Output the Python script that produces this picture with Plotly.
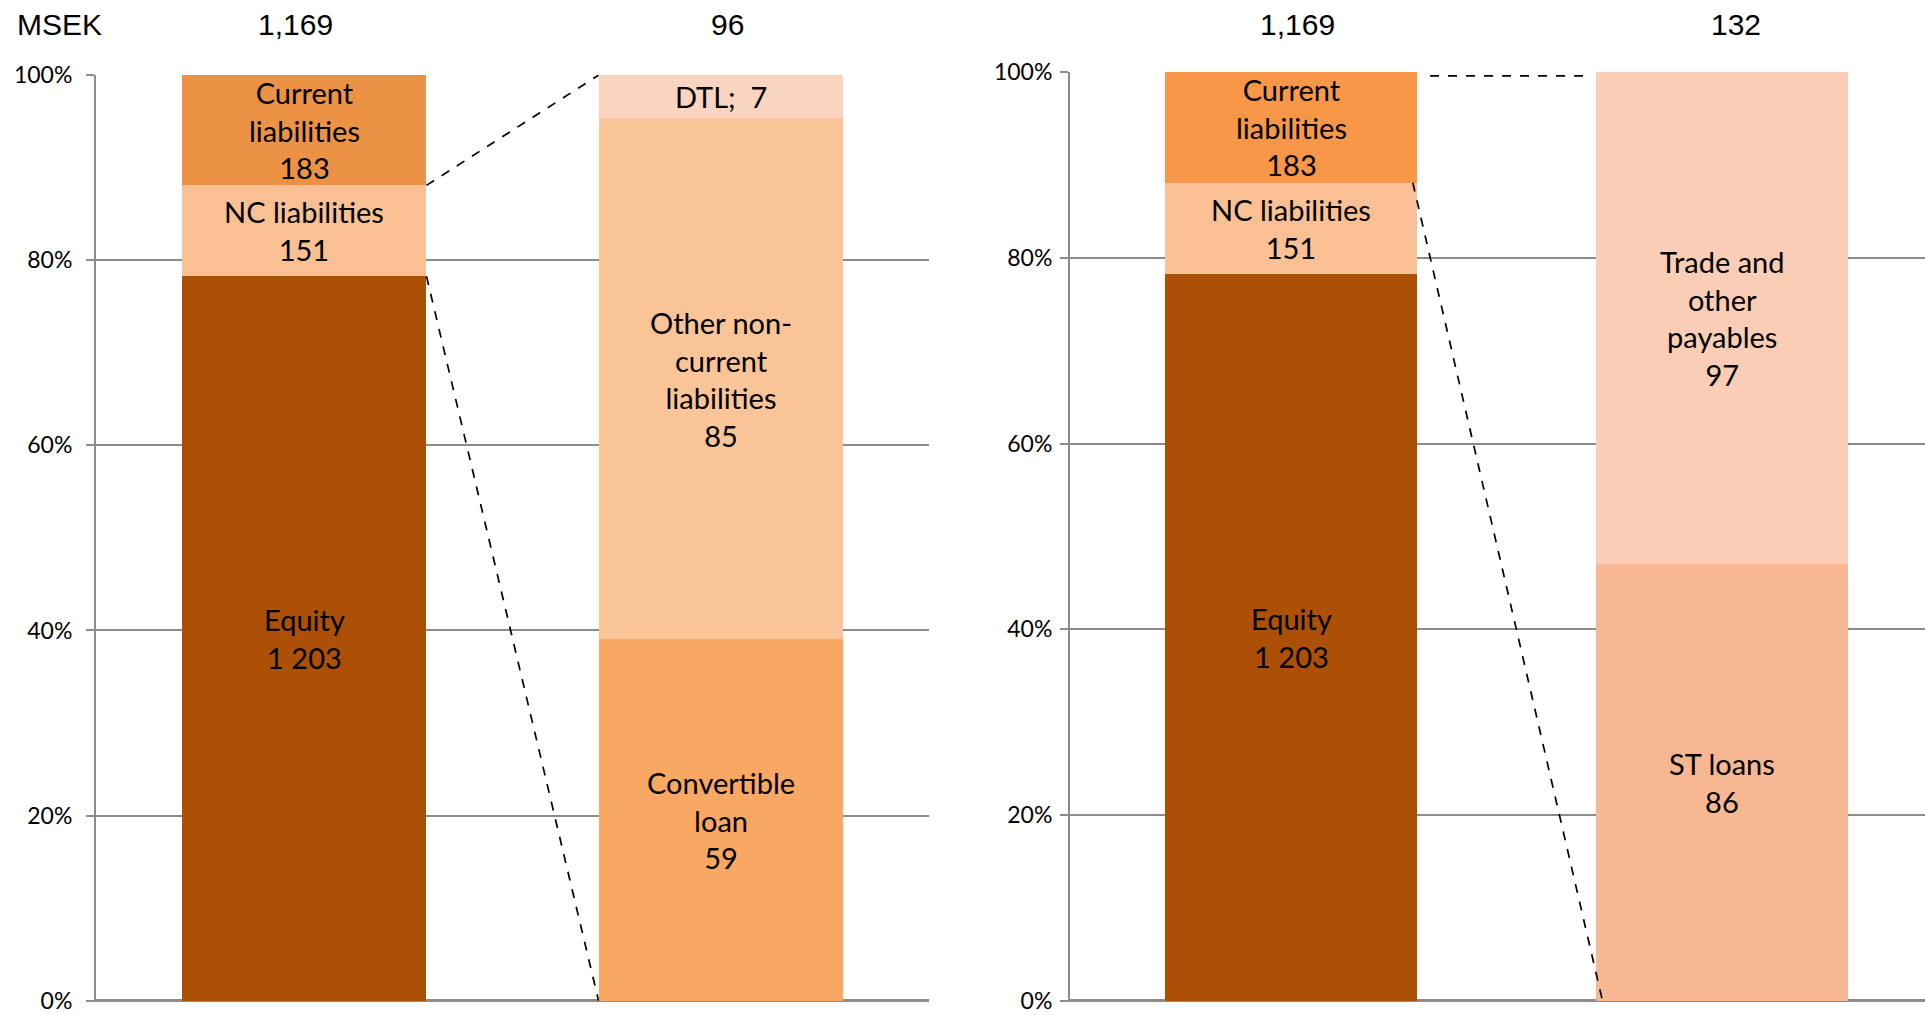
import plotly.graph_objects as go

# Balance sheet split (MSEK): total funding and drill-downs
main_names = ["Equity", "NC liabilities", "Current<br>liabilities"]
main_values = [1203, 151, 183]

nc_names = ["Convertible<br>loan", "Other non-<br>current<br>liabilities", "DTL"]
nc_values = [59, 85, 7]

cl_names = ["ST loans", "Trade and<br>other<br>payables"]
cl_values = [86, 97]

headers_left = ["1,169", "96"]
headers_right = ["1,169", "132"]
unit_label = "MSEK"

tick_vals = [0, 20, 40, 60, 80, 100]
tick_text = ["0%", "20%", "40%", "60%", "80%", "100%"]

# Styling
main_colors_left = ["#AC5006", "#F9C193", "#EC9245"]
main_colors_right = ["#AC5006", "#F9C193", "#F79747"]
nc_colors = ["#F8A862", "#F9C498", "#F9D4C1"]
cl_colors = ["#F8B793", "#FACDB6"]

TEXT_FONT = dict(family="Lato, 'Open Sans', sans-serif", size=29, color="#000000")
TICK_FONT = dict(family="Lato, 'Open Sans', sans-serif", size=23, color="#000000")
HEAD_FONT = dict(family="'Liberation Sans', Arial, sans-serif", size=30, color="#000000")
GRID = "#8C8C8C"

BAR_W_LEFT = 0.587
BAR_W_RIGHT = 0.585


def fmt(v):
    return f"{v:,}".replace(",", " ")


def shares(values):
    total = sum(values)
    return [v / total * 100 for v in values]


def cum_bounds(pcts):
    lows, highs, acc = [], [], 0.0
    for p in pcts:
        lows.append(acc)
        acc += p
        highs.append(acc)
    return lows, highs


fig = go.Figure()
annotations = []


def add_stack(xpos, names, values, colors, width, xa, ya, sep="<br>"):
    pcts = shares(values)
    lows, highs = cum_bounds(pcts)
    for name, v, p, c, lo, hi in zip(names, values, pcts, colors, lows, highs):
        fig.add_trace(go.Bar(
            x=[xpos], y=[p], width=width, marker=dict(color=c, line=dict(width=0)),
            xaxis=xa, yaxis=ya, showlegend=False, hoverinfo="skip",
        ))
        label = f"{name};  {fmt(v)}" if name == "DTL" else f"{name}{sep}{fmt(v)}"
        annotations.append(dict(
            x=xpos, y=(lo + hi) / 2, xref=xa, yref=ya, text=label,
            showarrow=False, font=TEXT_FONT, xanchor="center", yanchor="middle",
        ))
    return lows, highs


# Left panel: total vs. non-current liabilities breakdown
l_lo, l_hi = add_stack(0, main_names, main_values, main_colors_left, BAR_W_LEFT, "x", "y")
add_stack(1, nc_names, nc_values, nc_colors, BAR_W_LEFT, "x", "y")

# Right panel: total vs. current liabilities breakdown
r_lo, r_hi = add_stack(0, main_names, main_values, main_colors_right, BAR_W_RIGHT, "x2", "y2")
add_stack(1, cl_names, cl_values, cl_colors, BAR_W_RIGHT, "x2", "y2")

# Dashed connectors from the expanded segment to the detail bar
dash = dict(color="#000000", width=1.7, dash="dash")
hl = BAR_W_LEFT / 2
fig.add_trace(go.Scatter(x=[hl, 1 - hl], y=[l_hi[1], 100], mode="lines", line=dash,
                         xaxis="x", yaxis="y", showlegend=False, hoverinfo="skip"))
fig.add_trace(go.Scatter(x=[hl, 1 - hl], y=[l_lo[1], 0], mode="lines", line=dash,
                         xaxis="x", yaxis="y", showlegend=False, hoverinfo="skip"))
hr = BAR_W_RIGHT / 2
fig.add_trace(go.Scatter(x=[hr + 0.03, 1 - hr - 0.02], y=[l_hi[2] - 0.4, r_hi[2] - 0.4], mode="lines",
                         line=dash, xaxis="x2", yaxis="y2", showlegend=False, hoverinfo="skip"))
fig.add_trace(go.Scatter(x=[hr - 0.01, 1 - hr + 0.015], y=[r_lo[2], 0], mode="lines", line=dash,
                         xaxis="x2", yaxis="y2", showlegend=False, hoverinfo="skip"))

# Column headers
head_y = 1 - 25 / 1015
head_shift_left = [-0.02, 0.017]
head_shift_right = [0.015, 0.032]
annotations.append(dict(x=15 / 1925, y=head_y, xref="paper", yref="paper", text=unit_label,
                        showarrow=False, font=HEAD_FONT, xanchor="left", yanchor="middle"))
for i, t in enumerate(headers_left):
    annotations.append(dict(x=i + head_shift_left[i], y=head_y, xref="x", yref="paper", text=t,
                            showarrow=False, font=HEAD_FONT, xanchor="center", yanchor="middle"))
for i, t in enumerate(headers_right):
    annotations.append(dict(x=i + head_shift_right[i], y=head_y, xref="x2", yref="paper", text=t,
                            showarrow=False, font=HEAD_FONT, xanchor="center", yanchor="middle"))

yaxis_common = dict(
    range=[-0.15, 100.02], tickvals=tick_vals, ticktext=tick_text, tickfont=TICK_FONT,
    showgrid=True, gridcolor=GRID, gridwidth=2,
    zeroline=True, zerolinecolor=GRID, zerolinewidth=3,
    showline=True, linecolor=GRID, linewidth=2,
    ticks="outside", ticklen=8, tickcolor=GRID, tickwidth=2,
    ticklabeloverflow="allow",
    automargin=False, fixedrange=True,
)
xaxis_common = dict(showticklabels=False, showgrid=False, zeroline=False, showline=False,
                    ticks="", automargin=False, fixedrange=True)

fig.update_layout(
    template="none",
    width=1925, height=1015,
    margin=dict(l=0, r=0, t=0, b=0),
    paper_bgcolor="#FFFFFF", plot_bgcolor="rgba(0,0,0,0)",
    barmode="stack", bargap=0,
    showlegend=False,
    xaxis=dict(domain=[96 / 1925, 929 / 1925], range=[-0.5, 1.5], anchor="y", **xaxis_common),
    yaxis=dict(domain=[1 - 1002 / 1015, 1 - 75 / 1015], anchor="x", ticklabelstandoff=9,
               **yaxis_common),
    xaxis2=dict(domain=[1070 / 1925, 1.0], range=[-0.513, 1.471], anchor="y2", **xaxis_common),
    yaxis2=dict(domain=[1 - 1002 / 1015, 1 - 72 / 1015], anchor="x2", ticklabelstandoff=3,
                **yaxis_common),
    annotations=annotations,
)

fig.write_html("out.html")
